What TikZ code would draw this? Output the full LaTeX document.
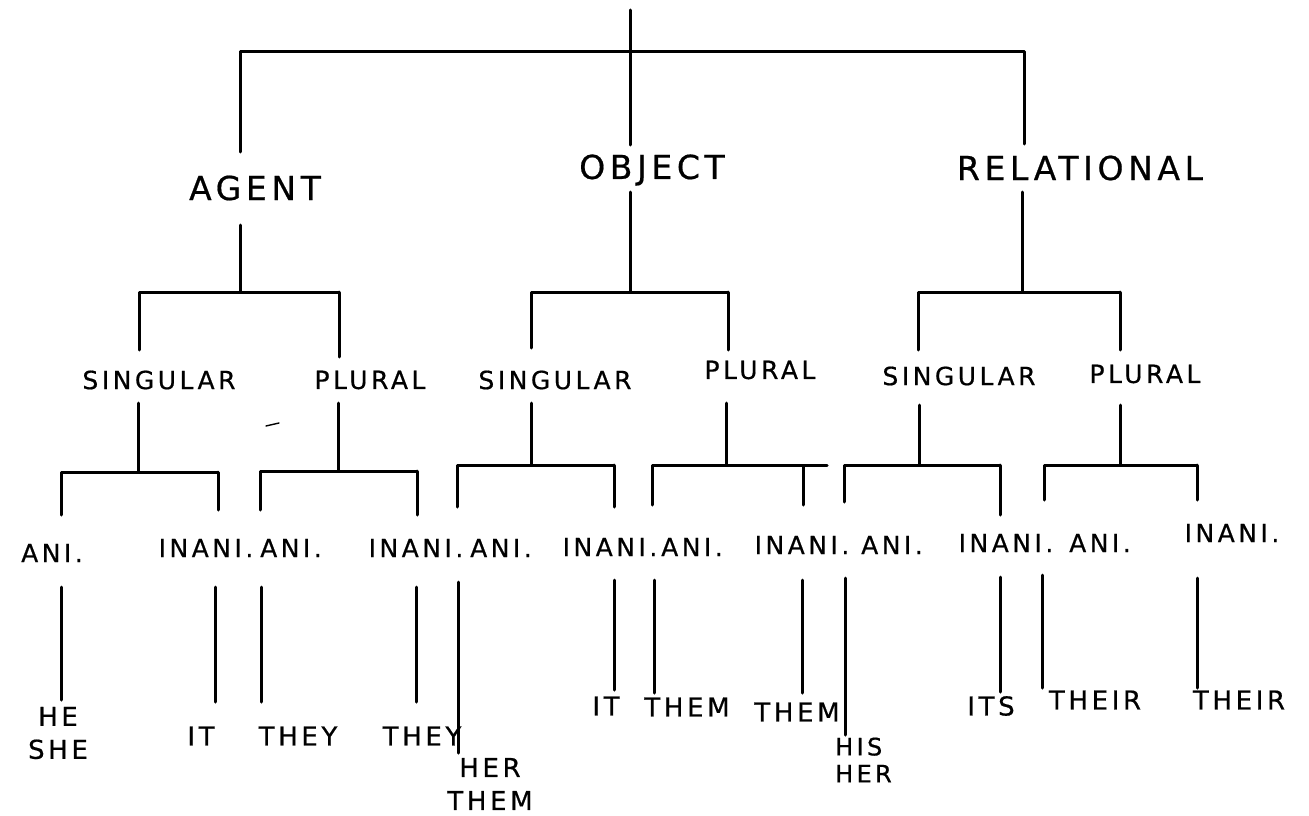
\documentclass[tikz,border=0pt]{standalone}
\usepackage{fontspec}
\setmainfont{DejaVu Sans}[LetterSpace=14,FakeBold=0.6]
% one bracket: stem from a parent down to a bar, and two drops to the children
% #1 name, #2 stem x, #3 stem top, #4 bar y, #5 left x, #6 left end y,
% #7 right x, #8 right end y, #9 bar end x
\newcommand\branchfork[9]{%
  \coordinate (#1-o) at (#2,#3);
  \coordinate (#1-j) at (#2,#4);
  \coordinate (#1-l) at (#5,#4);
  \coordinate (#1-rt) at (#7,#4);
  \coordinate (#1-r) at (#9,#4);
  \coordinate (#1-a) at (#5,#6);
  \coordinate (#1-b) at (#7,#8);
  \draw[wire] (#1-o) -- (#1-j);
  \draw[wire] (#1-a) -- (#1-l) -- (#1-rt) -- (#1-b);
  \draw[wire] (#1-rt) -- (#1-r);
}
\begin{document}
\begin{tikzpicture}[x=1pt,y=-1pt,
  wire/.style={line width=3pt,line cap=round,line join=round},
  lvA/.style={inner sep=0pt,font=\fontsize{33}{36}\selectfont},
  lvB/.style={inner sep=0pt,font=\fontsize{25}{28}\selectfont},
  lvC/.style={inner sep=0pt,font=\fontsize{25}{28}\selectfont},
  lvD/.style={inner sep=0pt,font=\fontsize{26}{33}\selectfont,align=center},
]
\fill[white] (0,0) rectangle (1309,816);
\useasboundingbox (0,0) rectangle (1309,816);

% case roles
\node[lvA] (agent) at (255,188) {AGENT};
\node[lvA] (object) at (652,170) {OBJECT};
\node[lvA] (relational) at (1080,168) {RELATIONAL};

% number
\node[lvB] (aSg) at (159,380) {SINGULAR};
\node[lvB] (aPl) at (370,380) {PLURAL};
\node[lvB] (oSg) at (555,380) {SINGULAR};
\node[lvB] (oPl) at (760,370) {PLURAL};
\node[lvB] (rSg) at (959,376) {SINGULAR};
\node[lvB] (rPl) at (1145,374) {PLURAL};

% animacy
\node[lvC] (aSgA) at (52,553) {ANI.};
\node[lvC] (aSgI) at (206,548) {INANI.};
\node[lvC] (aPlA) at (291,548) {ANI.};
\node[lvC] (aPlI) at (416,548) {INANI.};
\node[lvC] (oSgA) at (501,548) {ANI.};
\node[lvC] (oSgI) at (610,547) {INANI.};
\node[lvC] (oPlA) at (692,547) {ANI.};
\node[lvC] (oPlI) at (802,545) {INANI.};
\node[lvC] (rSgA) at (892,545) {ANI.};
\node[lvC] (rSgI) at (1006,543) {INANI.};
\node[lvC] (rPlA) at (1100,543) {ANI.};
\node[lvC] (rPlI) at (1232,533) {INANI.};

% pronoun forms
\node[lvD] (heshe) at (58,733) {HE\\SHE};
\node[lvD] (it1) at (201,736) {IT};
\node[lvD] (they1) at (298,736) {THEY};
\node[lvD] (they2) at (422,736) {THEY};
\node[lvD] (herthem) at (490,784) {HER\\THEM};
\node[lvD] (it2) at (606,706) {IT};
\node[lvD] (them1) at (687,707) {THEM};
\node[lvD] (them2) at (797,712) {THEM};
\node[lvD,align=left,anchor=west,font=\fontsize{24}{27}\selectfont] (hisher) at (835,760) {HIS\\HER};
\node[lvD] (its) at (991,706) {ITS};
\node[lvD] (their1) at (1095,700) {THEIR};
\node[lvD] (their2) at (1239,700) {THEIR};

% root bracket
\coordinate (rootTop) at (630,10);
\coordinate (rootJ) at (630,52);
\coordinate (topL) at (240,52);
\coordinate (topR) at (1024,52);
\coordinate (agentIn) at (240,152);
\coordinate (objectIn) at (630,145);
\coordinate (relIn) at (1024,144);
\draw[wire] (rootTop) -- (rootJ) -- (objectIn);
\draw[wire] (agentIn) -- (topL) -- (topR) -- (relIn);

% role -> number
\branchfork{agentF}{240}{225}{292}{139}{350}{339}{357}{339}
\branchfork{objectF}{630}{192}{292}{531}{348}{728}{350}{728}
\branchfork{relF}{1022}{192}{292}{918}{350}{1120}{350}{1120}

% number -> animacy
\branchfork{aSgF}{138}{403}{472}{61}{515}{218}{510}{218}
\branchfork{aPlF}{338}{403}{471}{260}{510}{417}{515}{417}
\branchfork{oSgF}{531}{403}{465}{457}{507}{614}{507}{614}
\branchfork{oPlF}{726}{403}{465}{652}{505}{803}{505}{827}
\branchfork{rSgF}{919}{405}{465}{844}{502}{1000}{515}{1000}
\branchfork{rPlF}{1120}{405}{465}{1044}{500}{1197}{500}{1197}

% animacy -> pronoun form
\foreach \n/\x/\t/\b in {
  aSgA/61/587/700, aSgI/215/587/702, aPlA/261/587/702, aPlI/416/587/702,
  oSgA/458/582/753, oSgI/614/580/690, oPlA/654/580/693, oPlI/802/580/693,
  rSgA/845/578/735, rSgI/1000/577/692, rPlA/1042/575/688, rPlI/1197/578/688}{
  \coordinate (\n-t) at (\x,\t);
  \coordinate (\n-b) at (\x,\b);
  \draw[wire] (\n-t) -- (\n-b);
}

% stray pen mark
\draw[line width=1.4pt,line cap=round] (266,426) -- (279,423);
\end{tikzpicture}
\end{document}
